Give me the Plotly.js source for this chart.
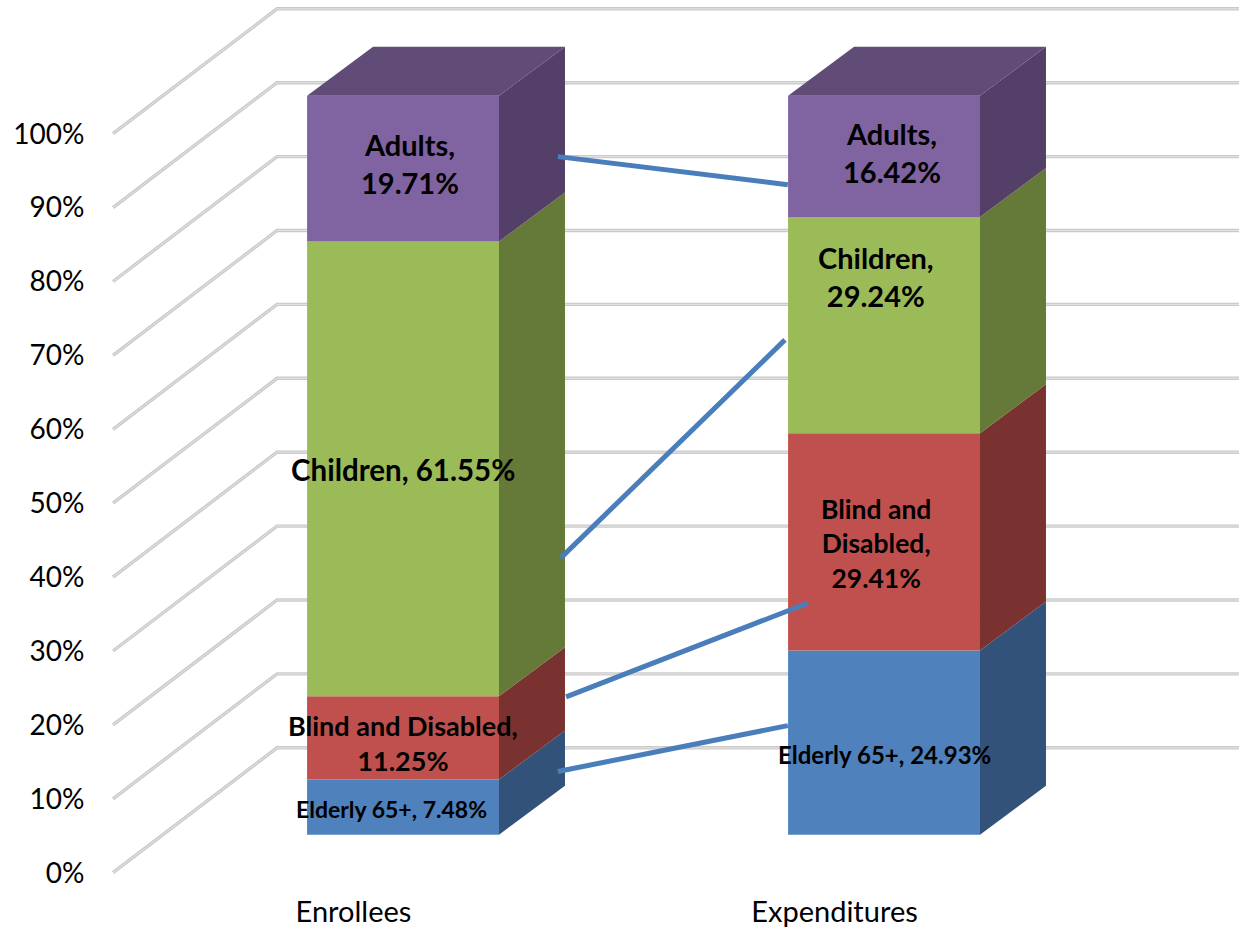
<!DOCTYPE html>
<html>
<head>
<meta charset="utf-8">
<script src="https://cdn.plot.ly/plotly-3.0.1.min.js"></script>
<style>html,body{margin:0;padding:0;background:#fff}</style>
</head>
<body>
<div id="chart" style="width:1247px;height:927px"></div>
<script>
// ---- data ----
const groups = ["Enrollees", "Expenditures"];
const groupPos = [1, 2];
const seriesNames = ["Elderly 65+", "Blind and Disabled", "Children", "Adults"];
const elderly = [7.48, 24.93];
const blind = [11.25, 29.41];
const children = [61.55, 29.24];
const adults = [19.71, 16.42];
const yTicks = [0, 10, 20, 30, 40, 50, 60, 70, 80, 90, 100];

// series lines between the stacks (axis units)
const linkAdultsX = [1.425, 1.903], linkAdultsY = [96.9, 93.1];
const linkChildrenX = [1.431, 1.897], linkChildrenY = [42.6, 72.1];
const linkBlindX = [1.442, 1.945], linkBlindY = [23.8, 36.5];
const linkElderlyX = [1.425, 1.903], linkElderlyY = [13.7, 19.9];

// ---- styles / 3D projection ----
const frontColors = ["#4f81bd", "#c0504d", "#9bbb59", "#8064a2"];
const sideColors = ["#32527a", "#7a3230", "#657a39", "#533f68"];
const topColor = "#614c78";
const FONT = "Lato, 'Open Sans', sans-serif";
const frontDX = 0.103, frontDY = 5.14;   // front plane offset from axis plane
const depthX = 0.1372, depthY = 6.63;    // bar depth
const wallX = 0.341, wallY = 16.9;       // wall offset from axis plane
const barW = 0.399;

const stackSeries = [elderly, blind, children, adults];
const traces = [];
const cum = groups.map(() => frontDY);

stackSeries.forEach((vals, s) => {
  const bases = cum.slice();
  traces.push({
    type: "bar", x: groupPos.map(p => p + frontDX), y: vals, base: bases,
    width: barW, name: seriesNames[s], marker: {color: frontColors[s], line: {width: 0}},
    hoverinfo: "skip", showlegend: false
  });
  // side faces
  const sx = [], sy = [];
  groupPos.forEach((p, i) => {
    const r = p + frontDX + barW / 2;
    const y0 = bases[i], y1 = bases[i] + vals[i];
    sx.push(r, r + depthX, r + depthX, r, r, null);
    sy.push(y0, y0 + depthY, y1 + depthY, y1, y0, null);
    cum[i] = y1;
  });
  traces.push({
    type: "scatter", mode: "lines", x: sx, y: sy, fill: "toself",
    fillcolor: sideColors[s], line: {width: 0, color: sideColors[s]},
    hoverinfo: "skip", showlegend: false, cliponaxis: false
  });
});

// top faces
const tx = [], ty = [];
groupPos.forEach((p, i) => {
  const l = p + frontDX - barW / 2, r = p + frontDX + barW / 2, t = cum[i];
  tx.push(l, l + depthX, r + depthX, r, l, null);
  ty.push(t, t + depthY, t + depthY, t, t, null);
});
traces.push({
  type: "scatter", mode: "lines", x: tx, y: ty, fill: "toself",
  fillcolor: topColor, line: {width: 0, color: topColor},
  hoverinfo: "skip", showlegend: false
});

// series lines
[[linkAdultsX, linkAdultsY], [linkChildrenX, linkChildrenY],
 [linkBlindX, linkBlindY], [linkElderlyX, linkElderlyY]].forEach(([x, y]) => {
  traces.push({
    type: "scatter", mode: "lines", x, y,
    line: {color: "#4a7ebb", width: 5}, hoverinfo: "skip", showlegend: false
  });
});

// wall / floor gridlines (below the bars)
const xMin = 0.473, xMax = 0.473 + 1147 / 481;
const gridLeft = 0.5, gridRight = 2.841;
const shapes = [];
yTicks.forEach(t => {
  const path = `M ${gridLeft} ${t} L ${gridLeft + wallX} ${t + wallY} L ${gridRight} ${t + wallY}`;
  shapes.push({type: "path", path, xref: "x", yref: "y", layer: "below",
    line: {color: "#cacaca", width: 3.4}});
  shapes.push({type: "path", path, xref: "x", yref: "y", layer: "below",
    line: {color: "#e4e4e4", width: 1}});
});

// data labels
function lab(x, y, text, size) {
  return {x, y, text, xref: "x", yref: "y", showarrow: false,
    font: {family: FONT, size, color: "#000", weight: 700},
    align: "center", xanchor: "center", yanchor: "middle"};
}
const annotations = [
  lab(1.117, 96.0, "<b>Adults,<br>19.71%</b>", 29),
  lab(1.103, 54.6, "<b>Children, 61.55%</b>", 29.5),
  lab(1.103, 17.5, "<b>Blind and Disabled,<br>11.25%</b>", 27),
  lab(1.08, 8.6, "<b>Elderly 65+, 7.48%</b>", 23),
  lab(2.12, 97.5, "<b>Adults,<br>16.42%</b>", 29),
  lab(2.086, 80.7, "<b>Children,<br>29.24%</b>", 29),
  lab(2.086, 44.6, "<b>Blind and<br>Disabled,<br>29.41%</b>", 26.5),
  lab(2.103, 16.0, "<b>Elderly 65+, 24.93%</b>", 24)
];

const layout = {
  width: 1247, height: 927, autosize: false,
  margin: {l: 100, r: 0, t: 0, b: 47, pad: 0},
  paper_bgcolor: "#fff", plot_bgcolor: "rgba(0,0,0,0)",
  barmode: "overlay", showlegend: false,
  font: {family: FONT, color: "#000"},
  xaxis: {
    range: [xMin, xMax], tickmode: "array", tickvals: groupPos, ticktext: groups,
    ticks: "outside", ticklen: 6, tickcolor: "rgba(0,0,0,0)",
    tickfont: {family: FONT, size: 29, color: "#000"},
    showgrid: false, zeroline: false, showline: false, fixedrange: true
  },
  yaxis: {
    range: [-7.3 / 7.39, 872.7 / 7.39], tickmode: "array", tickvals: yTicks,
    ticktext: yTicks.map(t => t + "%"),
    ticks: "outside", ticklen: 9, tickcolor: "rgba(0,0,0,0)",
    tickfont: {family: FONT, size: 28, color: "#000"},
    showgrid: false, zeroline: false, showline: false, fixedrange: true
  },
  shapes, annotations
};
Plotly.newPlot("chart", traces, layout, {displayModeBar: false, staticPlot: true});
</script>
</body>
</html>
